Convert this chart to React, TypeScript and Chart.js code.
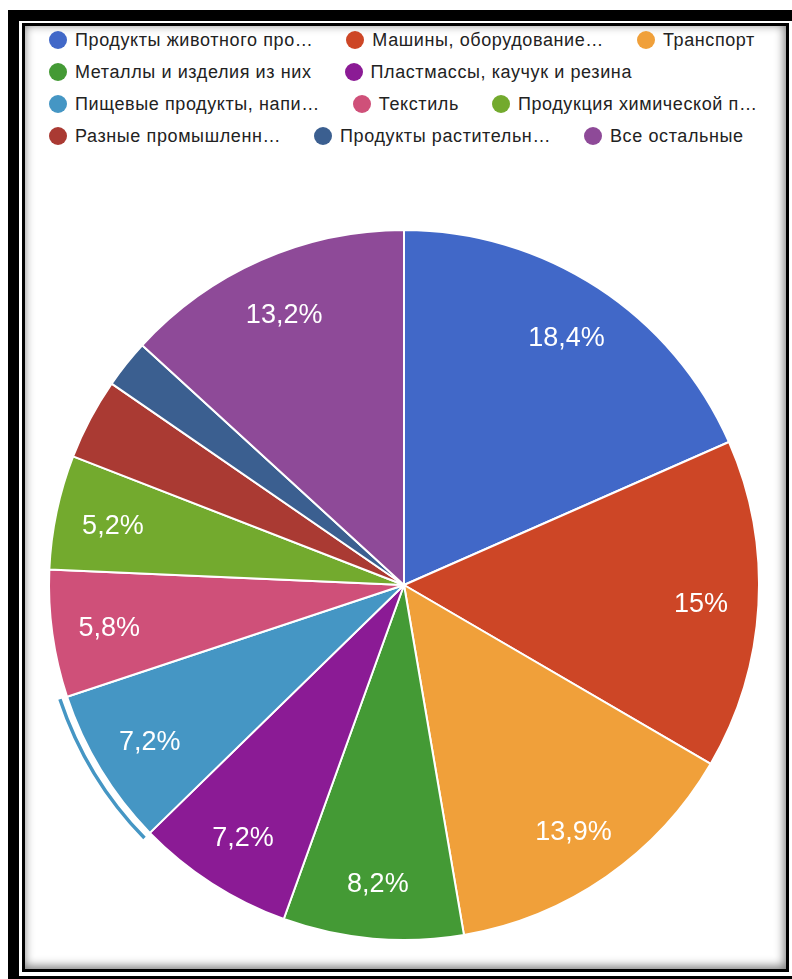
import React, { useEffect, useRef } from "react";
import { Chart, registerables } from "chart.js";

Chart.register(...registerables);

// ---- data ----
const categories: string[] = [
  "Продукты животного про…",
  "Машины, оборудование…",
  "Транспорт",
  "Металлы и изделия из них",
  "Пластмассы, каучук и резина",
  "Пищевые продукты, напи…",
  "Текстиль",
  "Продукция химической п…",
  "Разные промышленн…",
  "Продукты растительн…",
  "Все остальные",
];
const shares: number[] = [18.4, 15, 13.9, 8.2, 7.2, 7.2, 5.8, 5.2, 3.7, 2.2, 13.2];
const sliceColors: string[] = [
  "#4168c8",
  "#cd4626",
  "#f0a03a",
  "#449a35",
  "#8b1b95",
  "#4596c4",
  "#cf5079",
  "#73aa2e",
  "#aa3a33",
  "#3b5f90",
  "#8e4a98",
];
const highlightedSlice = 5;
const minLabelShare = 5;

const FONT = '"Liberation Sans", Arial, Helvetica, sans-serif';

function formatShare(v: number): string {
  return String(v).replace(".", ",") + "%";
}

const sliceLabelPlugin = {
  id: "sliceLabels",
  afterDatasetsDraw(chart: any) {
    const meta = chart.getDatasetMeta(0);
    const ctx: CanvasRenderingContext2D = chart.ctx;
    const total = shares.reduce((a, b) => a + b, 0);
    ctx.save();
    const hl = meta.data[highlightedSlice];
    if (hl) {
      const p = hl.getProps(["x", "y", "startAngle", "endAngle", "outerRadius"], true);
      ctx.beginPath();
      ctx.arc(p.x, p.y, p.outerRadius + 7.5, p.startAngle, p.endAngle);
      ctx.strokeStyle = sliceColors[highlightedSlice];
      ctx.lineWidth = 3.5;
      ctx.stroke();
    }
    ctx.font = `27px ${FONT}`;
    ctx.fillStyle = "#ffffff";
    ctx.textAlign = "center";
    ctx.textBaseline = "middle";
    meta.data.forEach((el: any, i: number) => {
      const pct = (shares[i] / total) * 100;
      if (pct < minLabelShare) return;
      const p = el.getProps(["x", "y", "startAngle", "endAngle", "outerRadius"], true);
      const mid = (p.startAngle + p.endAngle) / 2;
      const r = p.outerRadius * 0.838;
      ctx.fillText(formatShare(shares[i]), p.x + Math.cos(mid) * r, p.y + Math.sin(mid) * r + 3);
    });
    ctx.restore();
  },
};

function PieChart() {
  const ref = useRef<HTMLCanvasElement | null>(null);
  useEffect(() => {
    if (!ref.current) return;
    const chart = new Chart(ref.current, {
      type: "pie",
      data: {
        labels: categories,
        datasets: [
          {
            data: shares,
            backgroundColor: sliceColors,
            borderColor: "#ffffff",
            borderWidth: 2,
            hoverOffset: 0,
          },
        ],
      },
      options: {
        responsive: false,
        animation: false,
        events: [],
        layout: { padding: 20 },
        plugins: {
          legend: { display: false },
          tooltip: { enabled: false },
        },
      },
      plugins: [sliceLabelPlugin],
    });
    return () => chart.destroy();
  }, []);
  return (
    <canvas
      ref={ref}
      width={752}
      height={752}
      style={{ position: "absolute", left: 28, top: 209, width: 752, height: 752 }}
    />
  );
}

function Legend() {
  return (
    <div
      style={{
        position: "absolute",
        left: 49,
        top: 24,
        width: 725,
        display: "flex",
        flexWrap: "wrap",
        columnGap: 33,
        fontFamily: FONT,
        fontSize: 18,
        letterSpacing: 0.6,
        color: "#222222",
      }}
    >
      {categories.map((c, i) => (
        <div
          key={c}
          style={{ display: "flex", alignItems: "center", height: 32, whiteSpace: "nowrap" }}
        >
          <span
            style={{
              display: "inline-block",
              width: 18,
              height: 18,
              borderRadius: "50%",
              background: sliceColors[i],
              marginRight: 8,
            }}
          />
          <span>{c}</span>
        </div>
      ))}
    </div>
  );
}

export default function App() {
  return (
    <div style={{ position: "absolute", left: 0, top: 0, width: 792, height: 979, overflow: "hidden" }}>
      <div
        style={{ position: "absolute", left: 8, top: 10, width: 784, height: 969, background: "#000" }}
      >
        <div
          style={{ position: "absolute", left: 11, top: 11, right: 0, bottom: 3, background: "#fff" }}
        >
          <div
            style={{
              position: "absolute",
              left: 3,
              top: 2,
              right: 3,
              bottom: 4,
              border: "3px solid #000",
              background: "#fff",
              boxShadow: "inset -1px -2px 10px 1px rgba(0,0,0,0.5)",
            }}
          />
        </div>
      </div>
      <Legend />
      <PieChart />
    </div>
  );
}
